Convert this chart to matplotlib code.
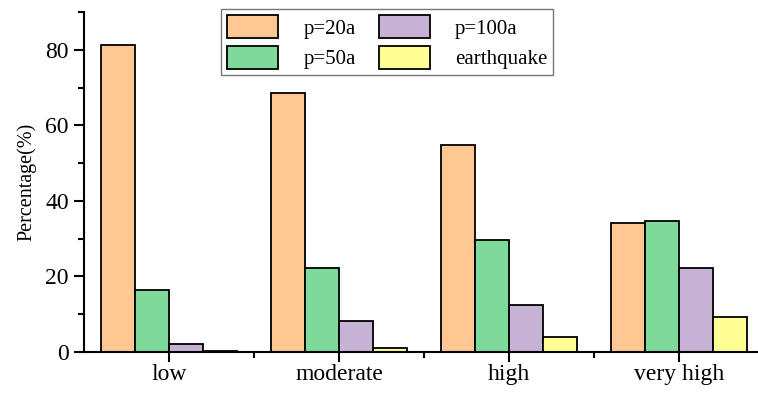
import numpy as np
import matplotlib.pyplot as plt

# -----------------------------
# data
# -----------------------------
categories = ["low", "moderate", "high", "very high"]
series_names = ["p=20a", "p=50a", "p=100a", "earthquake"]
p20 = [81.4, 68.7, 54.7, 34.1]
p50 = [16.4, 22.3, 29.5, 34.6]
p100 = [2.0, 8.2, 12.3, 22.3]
quake = [0.3, 0.9, 4.0, 9.2]
colors = ["#FFC892", "#7DDA9A", "#C7B2D6", "#FFFF96"]

plt.rcParams["font.family"] = ["Liberation Serif", "DejaVu Serif"]

fig = plt.figure(figsize=(7.58, 3.94), dpi=100)
ax = fig.add_axes([84 / 758, 42.3 / 394, 674 / 758, 339.4 / 394])

x = np.arange(len(categories))
w = 0.2
for i, (vals, name, c) in enumerate(zip([p20, p50, p100, quake], series_names, colors)):
    ax.bar(x + (i - 1.5) * w, vals, w, color=c, edgecolor="black",
           linewidth=1.3, label=name, zorder=2)

ax.set_xlim(-0.5, 3.465)
ax.set_ylim(0, 90)
ax.set_yticks([0, 20, 40, 60, 80])
ax.set_yticks([10, 30, 50, 70, 90], minor=True)
ax.set_xticks(x)
ax.set_xticklabels(categories)
ax.set_xticks([0.5, 1.5, 2.5], minor=True)

for s in ["top", "right"]:
    ax.spines[s].set_visible(False)
for s in ["left", "bottom"]:
    ax.spines[s].set_linewidth(1.5)

ax.tick_params(axis="both", which="major", direction="out", length=7, width=1.5,
               labelsize=17)
ax.tick_params(axis="both", which="minor", direction="out", length=4, width=1.5)
ax.tick_params(axis="x", which="major", pad=2)
ax.tick_params(axis="y", which="major", pad=4)

ax.set_ylabel("Percentage(%)", fontsize=14.5, labelpad=6)

leg = fig.legend(loc="upper left", bbox_to_anchor=(221 / 758, 1 - 9 / 394),
                 ncol=2, fontsize=15, frameon=True, fancybox=False,
                 handlelength=2.45, handleheight=1.3, handletextpad=1.2,
                 columnspacing=1.1, borderpad=0.3, labelspacing=0.35,
                 borderaxespad=0)
leg.get_frame().set_edgecolor("#555555")
leg.get_frame().set_linewidth(1.0)

fig.savefig("out.png", dpi=100)
